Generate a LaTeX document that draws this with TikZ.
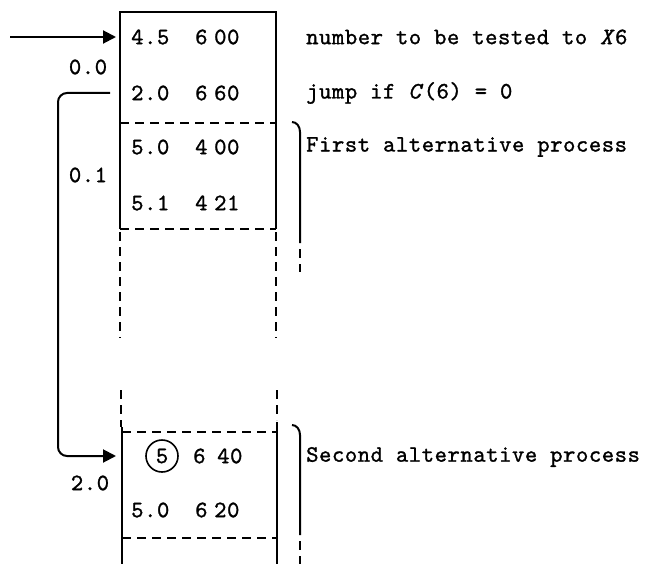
\documentclass[tikz,border=0pt]{standalone}
\usepackage{fontspec}
\setmonofont{lmmono10-regular}[Extension=.otf, ItalicFont=lmmono10-italic, LetterSpace=2.4, FakeBold=1.2]
\usetikzlibrary{arrows.meta}
% three columns of an instruction word: operand, register, operation
\newcommand\instr[4]{\hspace*{#4}\makebox[64pt][l]{#1}\makebox[19pt][l]{#2}#3}
\newcommand\typefont{\ttfamily\fontsize{23.5}{26}\selectfont}
\begin{document}
\begin{tikzpicture}[x=1pt,y=-1pt,
  every node/.style={font=\typefont, inner sep=0pt},
  rowtext/.style={anchor=west},
  wire/.style={line width=2pt},
  dashwire/.style={line width=2pt, dash pattern=on 9pt off 6pt},
  arr/.style={line width=2pt, -{Triangle[length=13pt,width=13pt]}},
  brace/.style={line width=2pt}]
\useasboundingbox (0,0) rectangle (647,564);

% ---- upper block of store
\draw[wire] (120,229) -- (120,12) -- (276,12) -- (276,229);
\draw[dashwire] (120,123) -- (276,123);
\draw[dashwire] (120,229) -- (276,229);
\draw[dashwire] (120,232) -- (120,338);
\draw[dashwire] (276,232) -- (276,338);

\node[rowtext] (r1) at (120,37)  {\instr{4.5}{6}{00}{11pt}};
\node[rowtext] (r2) at (120,93)  {\instr{2.0}{6}{60}{11pt}};
\node[rowtext] (r3) at (120,147) {\instr{5.0}{4}{00}{11pt}};
\node[rowtext] (r4) at (120,203) {\instr{5.1}{4}{21}{11pt}};

\node (l1) at (88,67)  {0.0};
\node (l2) at (88,175) {0.1};

% ---- lower block of store
\draw[dashwire] (121,390) -- (121,427);
\draw[dashwire] (277,390) -- (277,420);
\draw[wire] (122,427) -- (122,564);
\draw[wire] (277,422) -- (277,564);
\draw[dashwire] (122,432) -- (277,432);
\draw[dashwire] (122,538) -- (277,538);

\node[draw, circle, line width=1.6pt, minimum size=32pt] (c5) at (162,456) {5};
\node[rowtext] (r5) at (122,456) {\hspace*{71pt}\makebox[24pt][l]{6}40};
\node[rowtext] (r6) at (122,510) {\instr{5.0}{6}{20}{9pt}};
\node (l3) at (90,483) {2.0};

% ---- comments
\node[rowtext] (t1) at (306,37)  {number to be tested to \textit{X}6};
\node[rowtext] (t2) at (306,93)  {jump if \textit{C}(6) = 0};
\node[rowtext] (t3) at (306,147) {First alternative process};
\node[rowtext] (t4) at (306,457) {Second alternative process};

% ---- brackets
\draw[brace] (292,122) to[out=0,in=90] (300,132) -- (300,243);
\draw[dashwire] (300,249) -- (300,272);
\draw[brace] (292,425) to[out=0,in=90] (300,435) -- (300,535);
\draw[dashwire] (300,541) -- (300,564);

% ---- control flow
\coordinate (entry) at (10,37);
\coordinate (jx) at (58,300);
\draw[arr] (entry) -- ([xshift=-4pt]r1.west);
\draw[arr, rounded corners=9pt] ([xshift=-10pt]r2.west) -| (jx) |- ([xshift=-6pt]r5.west);
\end{tikzpicture}
\end{document}
